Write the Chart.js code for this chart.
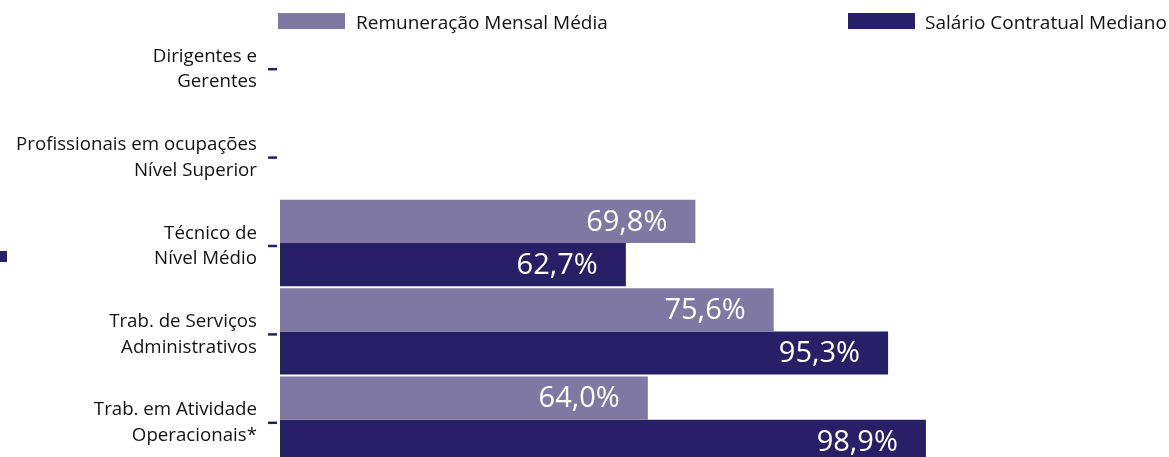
<!DOCTYPE html>
<html>
<head>
<meta charset="utf-8">
<script src="https://cdn.jsdelivr.net/npm/chart.js@4"></script>
<style>
html,body{margin:0;padding:0;background:#fff;overflow:hidden;width:1169px;height:457px;}
#wrap{position:absolute;left:0;top:0;width:1169px;height:470px;}
#mark{position:absolute;left:0;top:251px;width:7px;height:11px;background:#27206a;}
</style>
</head>
<body>
<div id="wrap"><canvas id="c" width="1169" height="470"></canvas></div>
<div id="mark"></div>
<script>
// Categories (each split into display lines)
const categories = [
  ["Dirigentes e", "Gerentes"],
  ["Profissionais em ocupações", "Nível Superior"],
  ["Técnico de", "Nível Médio"],
  ["Trab. de Serviços", "Administrativos"],
  ["Trab. em Atividade", "Operacionais*"]
];
const seriesNames = ["Remuneração Mensal Média", "Salário Contratual Mediano"];
// Bar lengths as drawn in the picture (axis 0–100)
const remuneracaoValues = [null, null, 47.2, 56.1, 41.8];
const salarioValues     = [null, null, 39.3, 69.1, 73.4];
// Value labels printed inside the bars
const remuneracaoLabels = [null, null, "69,8%", "75,6%", "64,0%"];
const salarioLabels     = [null, null, "62,7%", "95,3%", "98,9%"];

const FONT = "'Open Sans', 'Noto Sans', sans-serif";
const lightColor = "#7e78a3";
const darkColor = "#272066";

const valueLabelPlugin = {
  id: "valueLabels",
  afterDatasetsDraw(chart) {
    const ctx = chart.ctx;
    ctx.save();
    ctx.fillStyle = "#ffffff";
    ctx.font = "29px " + FONT;
    ctx.textAlign = "right";
    ctx.textBaseline = "middle";
    chart.data.datasets.forEach((ds, di) => {
      const meta = chart.getDatasetMeta(di);
      meta.data.forEach((bar, i) => {
        const txt = ds.valueLabels[i];
        if (txt == null || ds.data[i] == null) return;
        ctx.fillText(txt, bar.x - 28, bar.y + 1);
      });
    });
    ctx.restore();
  }
};

// Small dash tick marks next to the category labels
const tickMarkPlugin = {
  id: "tickMarks",
  afterDraw(chart) {
    const ctx = chart.ctx;
    const y = chart.scales.y;
    ctx.save();
    ctx.strokeStyle = darkColor;
    ctx.lineWidth = 2.5;
    y.ticks.forEach((t, i) => {
      const py = y.getPixelForTick(i) + 3;
      ctx.beginPath();
      ctx.moveTo(268, py);
      ctx.lineTo(277, py);
      ctx.stroke();
    });
    ctx.restore();
  }
};

const legendPlugin = {
  id: "customLegend",
  afterDraw(chart) {
    const ctx = chart.ctx;
    const items = [
      {boxX: 278, textX: 356},
      {boxX: 848, textX: 925}
    ];
    ctx.save();
    ctx.font = "19px " + FONT;
    ctx.textBaseline = "alphabetic";
    ctx.textAlign = "left";
    chart.data.datasets.forEach((ds, i) => {
      const it = items[i];
      ctx.fillStyle = ds.backgroundColor;
      ctx.fillRect(it.boxX, 13, 67, 16);
      ctx.fillStyle = "#111111";
      ctx.fillText(ds.label, it.textX, 29);
    });
    ctx.restore();
  }
};

new Chart(document.getElementById("c"), {
  type: "bar",
  data: {
    labels: categories,
    datasets: [
      {label: seriesNames[0], data: remuneracaoValues, valueLabels: remuneracaoLabels,
       backgroundColor: lightColor, borderWidth: 0, categoryPercentage: 0.977, barPercentage: 1},
      {label: seriesNames[1], data: salarioValues, valueLabels: salarioLabels,
       backgroundColor: darkColor, borderWidth: 0, categoryPercentage: 0.977, barPercentage: 1}
    ]
  },
  options: {
    indexAxis: "y",
    responsive: false,
    animation: false,
    layout: {padding: {top: 22, bottom: 6, right: 9, left: 0}},
    plugins: {legend: {display: false}, tooltip: {enabled: false}},
    scales: {
      x: {display: false, min: 0, max: 100},
      y: {
        border: {display: false},
        grid: {display: false, tickLength: 8},
        ticks: {color: "#111111", padding: 15, labelOffset: 3,
                font: {family: FONT, size: 18.7, lineHeight: 1.37}},
        afterFit(scale) {
          scale.width = 280;
          scale.paddingTop = 0;
          scale.paddingBottom = 0;
        }
      }
    }
  },
  plugins: [valueLabelPlugin, tickMarkPlugin, legendPlugin]
});
</script>
</body>
</html>
